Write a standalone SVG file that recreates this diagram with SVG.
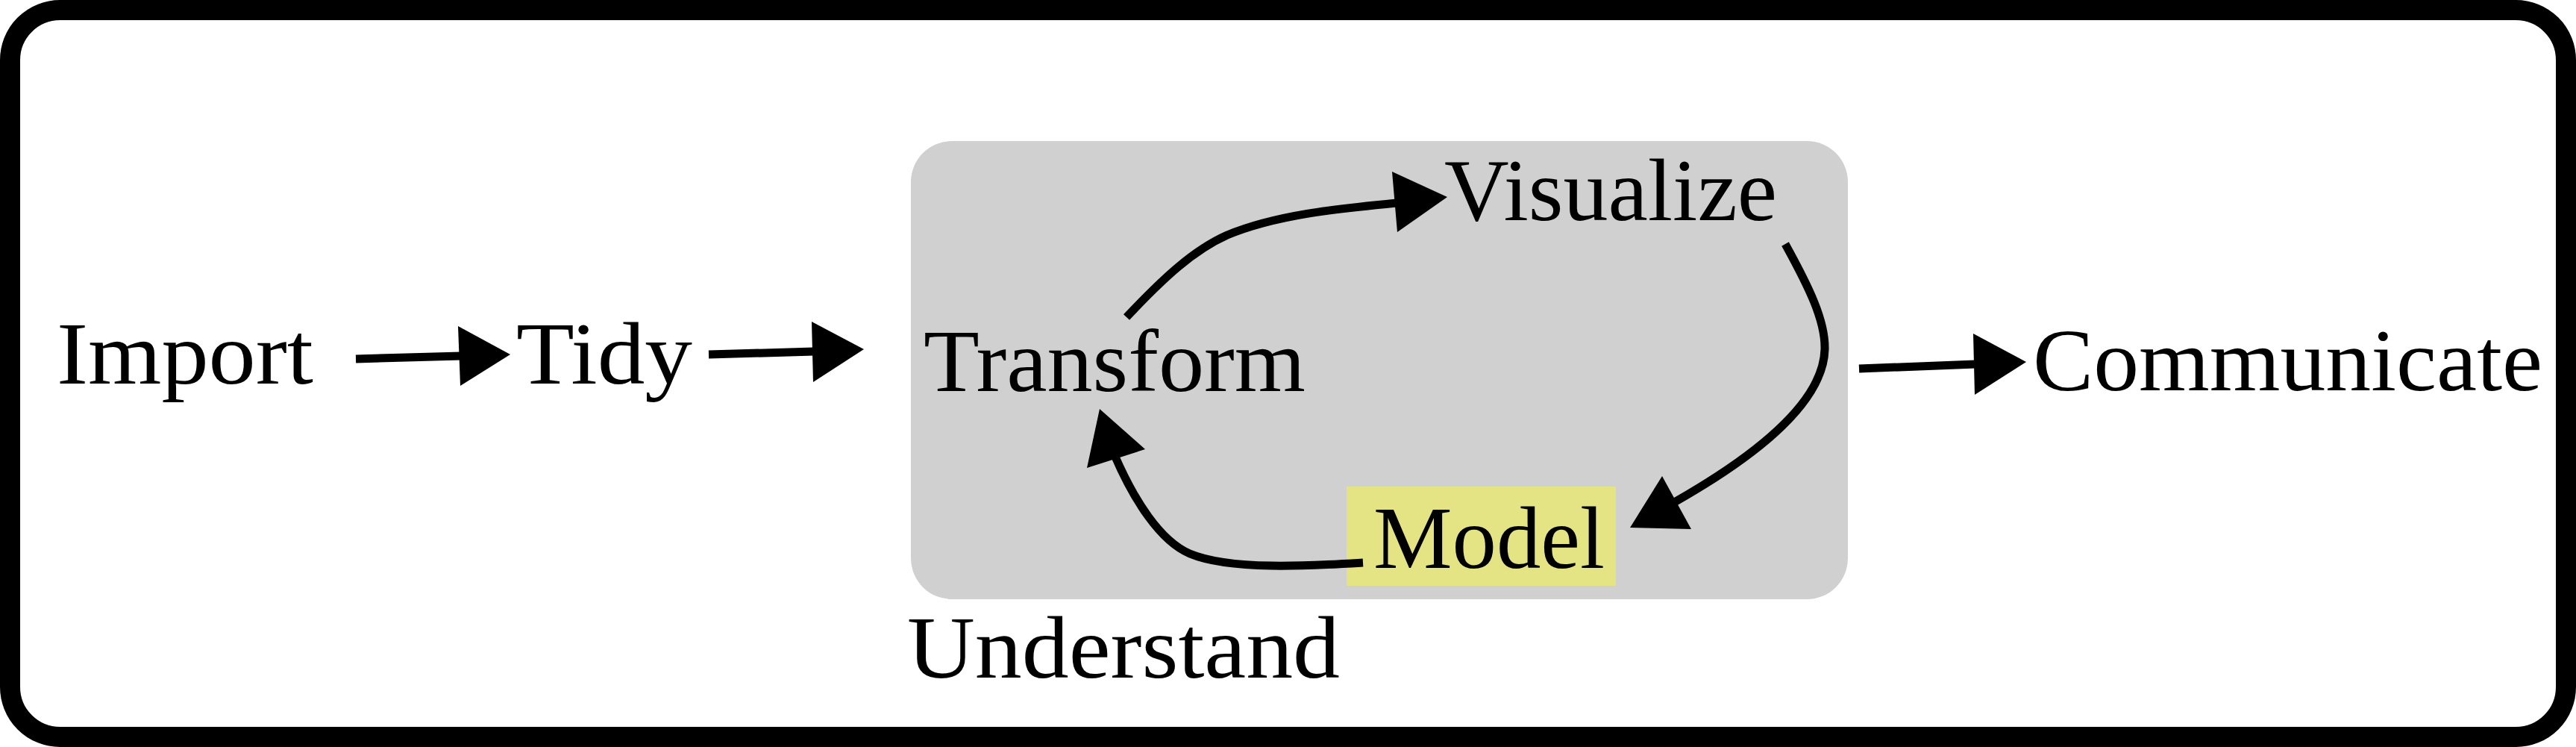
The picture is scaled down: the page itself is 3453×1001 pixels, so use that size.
<svg xmlns="http://www.w3.org/2000/svg" width="3453" height="1001" viewBox="0 0 3453 1001">
<style>
.lbl{font-family:"Liberation Serif","Times New Roman",serif;font-size:119px;fill:#000}
.ln{fill:none;stroke:#000;stroke-width:11}
.hd{fill:#000;stroke:none}
</style>
<rect x="0" y="0" width="3453" height="1001" fill="#fff"/>
<rect id="frame" x="13.5" y="13.5" width="3426" height="974" rx="67" ry="67" fill="#fff" stroke="#000" stroke-width="27"/>
<g id="understand">
<rect x="1221" y="189" width="1256" height="614" rx="55" ry="55" fill="#d0d0d0"/>
<text class="lbl" x="1216" y="908" textLength="580" lengthAdjust="spacingAndGlyphs">Understand</text>
</g>
<g id="import"><text class="lbl" x="76" y="514" textLength="344" lengthAdjust="spacingAndGlyphs">Import</text></g>
<g id="tidy"><text class="lbl" x="692" y="514" textLength="236" lengthAdjust="spacingAndGlyphs">Tidy</text></g>
<g id="transform"><text class="lbl" x="1238" y="524" textLength="512" lengthAdjust="spacingAndGlyphs">Transform</text></g>
<g id="visualize"><text class="lbl" x="1936" y="295" textLength="446" lengthAdjust="spacingAndGlyphs">Visualize</text></g>
<g id="model">
<rect x="1805" y="652" width="361" height="133" fill="#e4e485"/>
<text class="lbl" x="1841" y="761" textLength="310" lengthAdjust="spacingAndGlyphs">Model</text>
</g>
<g id="communicate"><text class="lbl" x="2725" y="523" textLength="683" lengthAdjust="spacingAndGlyphs">Communicate</text></g>
<g id="connectors">
<path class="ln" d="M477,481 L618,477"/>
<polygon class="hd" points="614,437 617,517 684,475"/>
<path class="ln" d="M950,475 L1091,471"/>
<polygon class="hd" points="1088,431 1090,512 1158,468"/>
<path class="ln" d="M2492,494 L2648,488"/>
<polygon class="hd" points="2645,447 2647,529 2716,485"/>
<path class="ln" d="M1510,425 C1560,372 1600,335 1645,315 C1710,288 1790,280 1872,272"/>
<polygon class="hd" points="1866,230 1873,311 1940,264"/>
<path class="ln" d="M2393,327 C2425,385 2447,430 2446,468 C2444,545 2340,620 2232,680"/>
<polygon class="hd" points="2228,638 2185,707 2267,709"/>
<path class="ln" d="M1827,754 C1760,758 1650,765 1595,742 C1555,725 1520,670 1494,610"/>
<polygon class="hd" points="1474,548 1457,627 1535,602"/>
</g>
</svg>
